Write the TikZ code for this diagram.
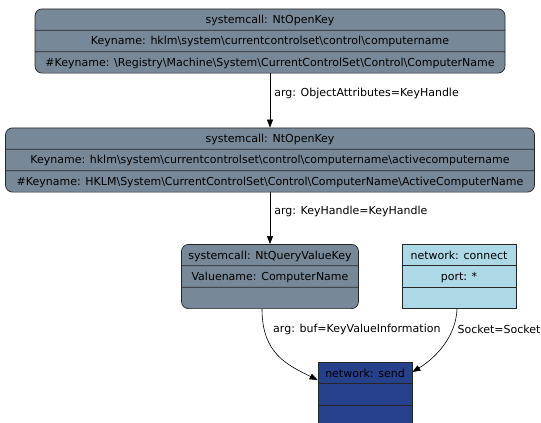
\documentclass[tikz,border=0pt]{standalone}
\usepackage{fontspec}
\setmainfont{DejaVu Sans}
\usetikzlibrary{shapes.multipart, arrows.meta, positioning, calc}

\definecolor{slate}{HTML}{778899}
\definecolor{skyish}{HTML}{ADD8E6}
\definecolor{royal}{HTML}{27408B}

% one row of a record: fixed height, text centred
\newcommand{\rowstrut}{\rule[-6.4pt]{0pt}{20.7pt}}
\newcommand{\bsl}{\textbackslash}

\begin{document}
\begin{tikzpicture}[x=1pt, y=-1pt,
    font=\fontsize{11}{13}\selectfont,
    record/.style={rectangle split, rectangle split parts=3, draw=black!85,
        line width=0.7pt, inner ysep=0pt, inner xsep=2pt},
    syscall/.style={record, fill=slate, rounded corners=7pt},
    netop/.style={record, fill=skyish},
    sendop/.style={record, fill=royal},
    flow/.style={-{Triangle[length=8pt,width=6pt]}, line width=0.6pt},
    lbl/.style={anchor=west, inner sep=0pt}]

    \useasboundingbox (0,0) rectangle (541,423);

    % records
    \node[syscall, minimum width=470pt] (openkey) at (270,41)
        {systemcall: NtOpenKey\rowstrut
         \nodepart{two}Keyname: hklm\bsl system\bsl currentcontrolset\bsl control\bsl computername\rowstrut
         \nodepart{three}\#Keyname: \bsl Registry\bsl Machine\bsl System\bsl CurrentControlSet\bsl Control\bsl ComputerName\rowstrut};

    \node[syscall, minimum width=529pt] (openactive) at (270,160)
        {systemcall: NtOpenKey\rowstrut
         \nodepart{two}Keyname: hklm\bsl system\bsl currentcontrolset\bsl control\bsl computername\bsl activecomputername\rowstrut
         \nodepart{three}\#Keyname: HKLM\bsl System\bsl CurrentControlSet\bsl Control\bsl ComputerName\bsl ActiveComputerName\rowstrut};

    \node[syscall, minimum width=177pt] (queryvalue) at (270,276.5)
        {systemcall: NtQueryValueKey\rowstrut
         \nodepart{two}Valuename: ComputerName\rowstrut
         \nodepart{three}\rowstrut};

    \node[netop, minimum width=114pt] (connect) at (459,276.5)
        {network: connect\rowstrut
         \nodepart{two}port: *\rowstrut
         \nodepart{three}\rowstrut};

    \node[sendop, minimum width=94pt] (send) at (365,394.5)
        {network: send\rowstrut
         \nodepart{two}\rowstrut
         \nodepart{three}\rowstrut};

    % edges
    \draw[flow] (openkey) -- node[lbl, xshift=4pt, yshift=7pt] (lblattr) {arg: ObjectAttributes=KeyHandle} (openactive);
    \draw[flow] (openactive) -- node[lbl, xshift=4pt, yshift=6.5pt] (lblhandle) {arg: KeyHandle=KeyHandle} (queryvalue);
    \draw[flow] ($(queryvalue.south)+(-8,0)$) .. controls +(0,45) and +(-30,-15) .. ($(send.north west)+(0,18)$)
        node[lbl, pos=0.2, xshift=8pt, yshift=2.7pt] (lblbuf) {arg: buf=KeyValueInformation};
    \draw[flow] ($(connect.south)+(-2,0)$) .. controls +(-1,28) and +(23,-14) .. ($(send.north east)+(0,10)$)
        node[lbl, pos=0.3, xshift=6pt, yshift=3pt] (lblsock) {Socket=Socket};
\end{tikzpicture}
\end{document}
